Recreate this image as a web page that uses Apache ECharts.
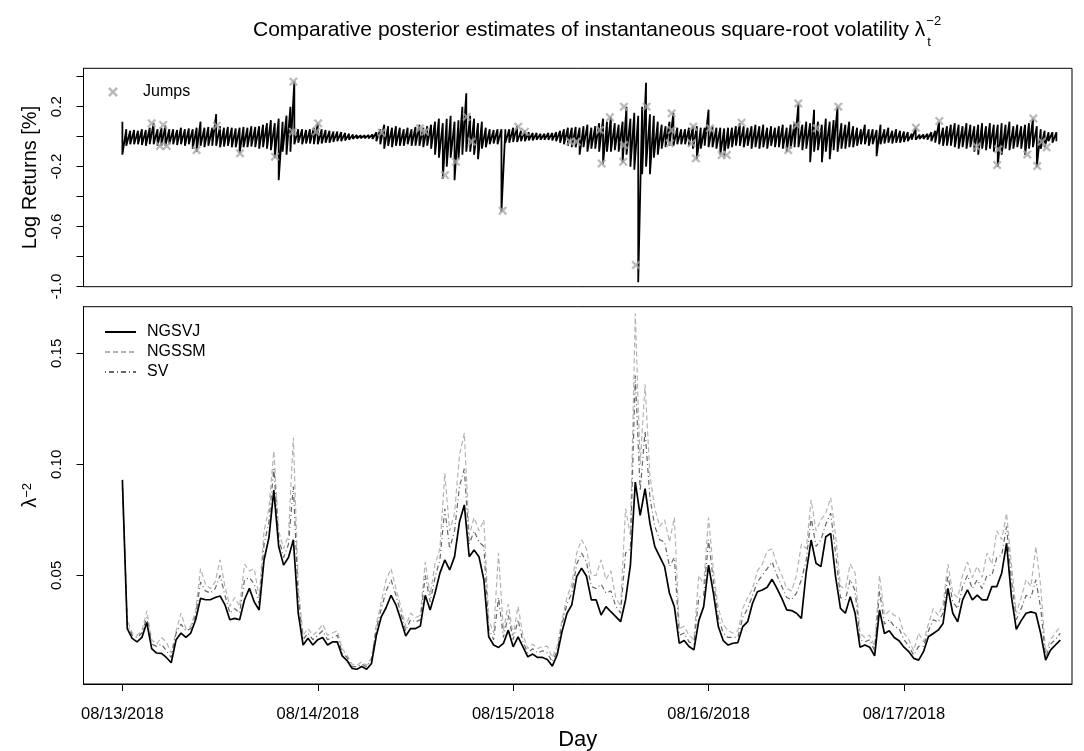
<!DOCTYPE html>
<html><head><meta charset="utf-8">
<script src="https://cdn.jsdelivr.net/npm/echarts@6/dist/echarts.min.js"></script>
<style>html,body{margin:0;padding:0;background:#fff}#c{width:1084px;height:751px}</style>
</head><body><div id="c"></div>
<script>
// ---------- data ----------
const dayLabels = ['08/13/2018','08/14/2018','08/15/2018','08/16/2018','08/17/2018'];
const dayTicks = [0,1,2,3,4];
const retTicks = [-1.0,-0.8,-0.6,-0.4,-0.2,0,0.2,0.4];
const retLabelTicks = [-1.0,-0.6,-0.2,0.2];
const volTicks = [0.05,0.10,0.15];

// log returns envelope, one pair every 0.02 day
const retStep = 0.02;
const retHigh = [
0.10,0.05,0.04,0.045,0.04,0.05,0.045,0.06,0.09,0.05,
0.06,0.075,0.05,0.05,0.045,0.06,0.05,0.055,0.05,0.06,
0.1,0.06,0.065,0.06,0.15,0.07,0.06,0.065,0.06,0.055,
0.06,0.065,0.06,0.07,0.065,0.07,0.08,0.09,0.11,0.09,
0.12,0.1,0.14,0.2,0.37,0.05,0.05,0.045,0.05,0.06,
0.09,0.05,0.045,0.04,0.035,0.035,0.03,0.025,0.02,0.015,
0.012,0.01,0.01,0.012,0.015,0.03,0.05,0.08,0.07,0.06,
0.07,0.06,0.05,0.06,0.05,0.065,0.08,0.06,0.07,0.08,
0.1,0.12,0.09,0.12,0.14,0.1,0.11,0.2,0.29,0.14,
0.12,0.09,0.1,0.06,0.05,0.045,0.05,0.05,0.05,0.05,
0.06,0.07,0.04,0.04,0.03,0.025,0.025,0.02,0.02,0.025,
0.025,0.03,0.04,0.05,0.06,0.06,0.065,0.06,0.07,0.08,
0.06,0.07,0.09,0.12,0.1,0.13,0.09,0.08,0.1,0.2,
0.12,0.16,0.14,0.2,0.36,0.15,0.14,0.1,0.08,0.07,
0.1,0.16,0.06,0.05,0.05,0.06,0.07,0.07,0.06,0.06,
0.18,0.07,0.06,0.06,0.055,0.06,0.06,0.07,0.09,0.07,
0.06,0.07,0.08,0.07,0.08,0.06,0.07,0.06,0.07,0.08,
0.06,0.08,0.09,0.22,0.08,0.1,0.09,0.18,0.1,0.08,
0.12,0.1,0.11,0.2,0.09,0.08,0.1,0.07,0.06,0.05,
0.08,0.05,0.05,0.045,0.08,0.05,0.06,0.04,0.05,0.04,
0.035,0.03,0.02,0.06,0.015,0.015,0.02,0.03,0.04,0.1,
0.06,0.07,0.08,0.09,0.08,0.07,0.09,0.08,0.07,0.08,
0.09,0.07,0.09,0.08,0.08,0.09,0.08,0.1,0.07,0.08,
0.07,0.08,0.09,0.12,0.07,0.05,0.04,0.03,0.03,0.03];
const retLow = [
-0.12,-0.06,-0.05,-0.05,-0.05,-0.055,-0.06,-0.05,-0.05,-0.06,
-0.06,-0.06,-0.05,-0.05,-0.055,-0.05,-0.06,-0.05,-0.08,-0.1,
-0.06,-0.07,-0.06,-0.06,-0.06,-0.07,-0.065,-0.06,-0.07,-0.07,
-0.11,-0.07,-0.07,-0.065,-0.07,-0.08,-0.07,-0.08,-0.09,-0.14,
-0.29,-0.1,-0.12,-0.1,-0.05,-0.04,-0.05,-0.045,-0.045,-0.05,
-0.05,-0.045,-0.04,-0.04,-0.035,-0.03,-0.03,-0.025,-0.02,-0.015,
-0.012,-0.01,-0.01,-0.012,-0.015,-0.03,-0.05,-0.08,-0.06,-0.07,
-0.06,-0.06,-0.06,-0.05,-0.06,-0.06,-0.06,-0.07,-0.06,-0.08,
-0.12,-0.14,-0.28,-0.2,-0.14,-0.29,-0.15,-0.12,-0.1,-0.1,
-0.12,-0.15,-0.08,-0.07,-0.05,-0.045,-0.05,-0.5,-0.04,-0.04,
-0.035,-0.035,-0.03,-0.03,-0.025,-0.025,-0.02,-0.02,-0.02,-0.02,
-0.025,-0.03,-0.04,-0.05,-0.06,-0.07,-0.07,-0.12,-0.07,-0.1,
-0.08,-0.08,-0.1,-0.18,-0.1,-0.1,-0.09,-0.1,-0.17,-0.12,
-0.2,-0.22,-0.97,-0.25,-0.2,-0.25,-0.14,-0.12,-0.08,-0.07,
-0.06,-0.06,-0.05,-0.05,-0.05,-0.06,-0.08,-0.15,-0.08,-0.06,
-0.07,-0.07,-0.08,-0.12,-0.125,-0.08,-0.07,-0.06,-0.06,-0.07,
-0.06,-0.08,-0.07,-0.08,-0.07,-0.08,-0.06,-0.07,-0.07,-0.08,
-0.1,-0.08,-0.07,-0.07,-0.09,-0.08,-0.17,-0.1,-0.09,-0.17,
-0.1,-0.15,-0.09,-0.1,-0.08,-0.08,-0.07,-0.07,-0.06,-0.05,
-0.05,-0.06,-0.05,-0.13,-0.05,-0.045,-0.04,-0.045,-0.04,-0.04,
-0.035,-0.03,-0.02,-0.02,-0.015,-0.015,-0.02,-0.03,-0.04,-0.05,
-0.06,-0.06,-0.06,-0.07,-0.08,-0.07,-0.08,-0.07,-0.1,-0.12,
-0.08,-0.09,-0.08,-0.1,-0.2,-0.12,-0.08,-0.09,-0.08,-0.07,
-0.08,-0.12,-0.08,-0.07,-0.2,-0.08,-0.07,-0.03,-0.04,-0.03];

// detected jumps (day, log return)
const jumpDays = [0.150,0.209,0.192,0.227,0.380,0.483,0.602,0.781,0.875,0.872,1.002,0.991,1.327,1.523,1.549,1.651,1.707,1.762,1.788,1.946,2.026,2.060,2.291,2.325,2.453,2.444,2.495,2.567,2.567,2.563,2.683,2.628,2.811,2.811,2.802,2.922,2.913,2.935,3.007,3.067,3.093,3.169,3.408,3.459,3.451,3.553,3.664,4.061,4.181,4.372,4.483,4.477,4.631,4.662,4.682,4.705,4.730];
const jumpValues = [0.089,0.078,-0.062,-0.062,-0.089,0.073,-0.111,-0.133,0.367,0.033,0.089,0.033,0.027,0.056,0.033,-0.256,-0.167,0.133,-0.033,-0.493,0.067,0.033,-0.033,-0.033,-0.178,0.044,0.129,0.2,-0.056,-0.167,0.2,-0.856,0.156,0.044,-0.044,0.067,-0.044,-0.144,0.056,-0.122,-0.122,0.093,-0.089,0.222,0.078,0.056,0.2,0.06,0.104,-0.067,-0.084,-0.189,-0.118,0.122,-0.196,-0.033,-0.071];

// volatility estimates, one value every 0.025 day
const volStep = 0.025;
const ngsvj = [
0.093,0.026,0.0216,0.020,0.022,0.0287,0.017,0.015,0.0148,0.013,
0.0106,0.021,0.024,0.022,0.024,0.030,0.0396,0.039,0.039,0.040,
0.0407,0.0367,0.030,0.0306,0.030,0.039,0.0441,0.038,0.0344,0.0569,
0.067,0.0884,0.063,0.0546,0.058,0.066,0.033,0.0186,0.0216,0.0186,
0.021,0.022,0.0186,0.020,0.020,0.0137,0.0116,0.0081,0.0077,0.0089,
0.0077,0.0103,0.023,0.0313,0.0355,0.041,0.0367,0.030,0.0227,0.026,
0.026,0.0272,0.041,0.0344,0.0419,0.051,0.0569,0.0524,0.0584,0.074,
0.0817,0.0584,0.0614,0.0584,0.048,0.0223,0.0186,0.0175,0.0193,0.0253,
0.0178,0.0223,0.0178,0.0133,0.0145,0.013,0.013,0.0121,0.0091,0.0141,
0.0246,0.0328,0.0367,0.0494,0.0532,0.0497,0.0389,0.0389,0.0321,0.0359,
0.0336,0.0314,0.0291,0.0389,0.0546,0.092,0.077,0.089,0.0734,0.0629,
0.0584,0.0539,0.0419,0.0359,0.0194,0.0206,0.0179,0.0164,0.0296,0.0359,
0.0546,0.0419,0.0269,0.0206,0.0186,0.0194,0.0197,0.0269,0.0291,0.0374,
0.0426,0.0434,0.0446,0.0482,0.0441,0.0396,0.0344,0.0341,0.0329,0.0306,
0.0516,0.0659,0.0554,0.0539,0.0674,0.0689,0.0494,0.0351,0.0329,0.0404,
0.0329,0.0176,0.0186,0.0176,0.0137,0.0344,0.0238,0.025,0.022,0.0205,
0.0176,0.0156,0.0126,0.0118,0.0156,0.0223,0.0238,0.0253,0.0283,0.0441,
0.0329,0.0291,0.0389,0.0434,0.0389,0.0411,0.0389,0.0389,0.0449,0.0449,
0.0509,0.0644,0.0404,0.0257,0.0296,0.0329,0.0335,0.0329,0.0238,0.0118,
0.0163,0.0186,0.0208];
const ngssm = [
0.090,0.030,0.024,0.023,0.025,0.034,0.021,0.019,0.022,0.020,
0.015,0.025,0.033,0.026,0.027,0.034,0.053,0.046,0.044,0.047,
0.057,0.045,0.036,0.040,0.036,0.055,0.052,0.053,0.040,0.070,
0.080,0.106,0.070,0.062,0.068,0.112,0.045,0.023,0.026,0.023,
0.025,0.028,0.023,0.024,0.025,0.017,0.014,0.010,0.0095,0.011,
0.0095,0.013,0.028,0.038,0.048,0.053,0.044,0.036,0.027,0.033,
0.031,0.032,0.056,0.041,0.055,0.062,0.096,0.070,0.078,0.104,
0.114,0.068,0.076,0.070,0.075,0.030,0.024,0.060,0.025,0.037,
0.023,0.036,0.023,0.017,0.019,0.017,0.018,0.018,0.013,0.018,
0.030,0.040,0.046,0.060,0.066,0.062,0.050,0.050,0.057,0.048,
0.052,0.040,0.036,0.080,0.068,0.168,0.100,0.136,0.095,0.080,
0.072,0.075,0.065,0.076,0.026,0.027,0.023,0.021,0.050,0.046,
0.076,0.052,0.035,0.028,0.025,0.024,0.025,0.035,0.040,0.044,
0.052,0.055,0.061,0.062,0.055,0.050,0.044,0.043,0.050,0.064,
0.062,0.084,0.070,0.075,0.078,0.085,0.068,0.045,0.044,0.055,
0.051,0.024,0.022,0.023,0.018,0.050,0.032,0.034,0.032,0.031,
0.024,0.021,0.016,0.024,0.020,0.028,0.035,0.032,0.037,0.055,
0.042,0.040,0.050,0.056,0.049,0.054,0.049,0.060,0.055,0.070,
0.066,0.078,0.055,0.033,0.040,0.048,0.045,0.063,0.045,0.015,
0.021,0.024,0.027];
const sv = [
0.091,0.028,0.023,0.022,0.024,0.031,0.019,0.018,0.019,0.016,
0.013,0.024,0.028,0.025,0.026,0.032,0.047,0.043,0.042,0.044,
0.050,0.041,0.033,0.035,0.033,0.048,0.049,0.046,0.037,0.064,
0.074,0.098,0.067,0.058,0.064,0.090,0.040,0.021,0.024,0.021,
0.023,0.025,0.021,0.022,0.023,0.015,0.013,0.009,0.0088,0.010,
0.0088,0.012,0.026,0.035,0.043,0.048,0.041,0.033,0.025,0.030,
0.029,0.030,0.050,0.038,0.049,0.057,0.080,0.062,0.070,0.090,
0.098,0.064,0.070,0.065,0.063,0.026,0.021,0.040,0.022,0.032,
0.021,0.030,0.020,0.015,0.017,0.015,0.016,0.015,0.011,0.016,
0.028,0.037,0.042,0.055,0.060,0.056,0.045,0.044,0.046,0.042,
0.043,0.036,0.033,0.060,0.062,0.140,0.088,0.115,0.085,0.072,
0.066,0.065,0.054,0.058,0.023,0.024,0.020,0.019,0.040,0.041,
0.066,0.047,0.031,0.024,0.022,0.022,0.022,0.031,0.035,0.041,
0.047,0.050,0.053,0.056,0.050,0.045,0.040,0.039,0.042,0.048,
0.057,0.076,0.063,0.066,0.073,0.078,0.060,0.040,0.039,0.048,
0.043,0.021,0.020,0.021,0.016,0.043,0.028,0.030,0.027,0.026,
0.021,0.018,0.014,0.018,0.018,0.025,0.030,0.029,0.033,0.050,
0.038,0.035,0.045,0.050,0.044,0.048,0.044,0.050,0.050,0.058,
0.059,0.072,0.048,0.030,0.035,0.041,0.040,0.048,0.035,0.013,
0.019,0.021,0.024];

// ---------- build ----------
const FONT = '"Liberation Sans", Arial, sans-serif';
const retData = [];
retHigh.forEach((h, k) => { retData.push([k * retStep, h]); retData.push([k * retStep, retLow[k]]); });
const jumpData = jumpDays.map((d, i) => [d, jumpValues[i]]);
const volSeries = arr => arr.map((v, i) => [i * volStep, v]);
const XMIN = -0.199, XMAX = 4.86;
const XSHAPE = 'path://M0,1.8L1.8,0L5,3.2L8.2,0L10,1.8L6.8,5L10,8.2L8.2,10L5,6.8L1.8,10L0,8.2L3.2,5Z';

// title layout
const titleMain = 'Comparative posterior estimates of instantaneous square-root volatility λ';
const TFS = 21;
const cv = document.createElement('canvas').getContext('2d');
cv.font = TFS + 'px ' + FONT;
const tW = cv.measureText(titleMain).width;
const tLeft = 253;

const chart = echarts.init(document.getElementById('c'), null, {renderer: 'canvas'});
chart.setOption({
  animation: false,
  backgroundColor: '#fff',
  textStyle: {fontFamily: FONT, color: '#000'},
  title: [
    {text: titleMain, left: tLeft, top: 20, padding: 0, textStyle: {fontSize: TFS, fontWeight: 'normal', color: '#000', fontFamily: FONT}},
    {text: '−2', left: tLeft + tW + 1, top: 15, padding: 0, textStyle: {fontSize: 13, fontWeight: 'normal', color: '#000', fontFamily: FONT}},
    {text: 't', left: tLeft + tW + 2, top: 36, padding: 0, textStyle: {fontSize: 13, fontWeight: 'normal', color: '#000', fontFamily: FONT}}
  ],
  legend: [
    {data: [{name: 'Jumps', icon: XSHAPE}], left: 108, top: 84, padding: 0, itemWidth: 10, itemHeight: 10, selectedMode: false,
     itemStyle: {color: '#a9a9a9'},
     textStyle: {fontSize: 16, color: '#000', fontFamily: FONT, padding: [0,0,0,20]}},
    {data: ['NGSVJ','NGSSM','SV'], orient: 'vertical', left: 104, top: 324, padding: 0, itemWidth: 31, itemHeight: 14, itemGap: 4, selectedMode: false,
     itemStyle: {opacity: 0},
     textStyle: {fontSize: 16, color: '#000', fontFamily: FONT, padding: [0,0,0,6], lineHeight: 15}}
  ],
  grid: [
    {left: 83.5, right: 12, top: 68.3, height: 218.4, show: true, borderColor: '#000', borderWidth: 1, containLabel: false, outerBoundsMode: 'none'},
    {left: 83.5, right: 12, top: 306.7, height: 377.3, show: true, borderColor: '#000', borderWidth: 1, containLabel: false, outerBoundsMode: 'none'}
  ],
  xAxis: [
    {type: 'value', gridIndex: 0, min: XMIN, max: XMAX, axisLine: {show: false}, axisTick: {show: false}, axisLabel: {show: false}, splitLine: {show: false}},
    {type: 'value', gridIndex: 1, min: XMIN, max: XMAX,
     name: 'Day', nameLocation: 'middle', nameGap: 45, nameTextStyle: {fontSize: 22, color: '#000', fontFamily: FONT},
     axisLine: {show: true, onZero: false, lineStyle: {color: '#000', width: 1}},
     axisTick: {show: true, length: 7, customValues: dayTicks, lineStyle: {color: '#000'}},
     axisLabel: {customValues: dayTicks, margin: 22, fontSize: 16.5, color: '#000', fontFamily: FONT,
                 formatter: v => dayLabels[dayTicks.indexOf(Math.round(v))] || ''},
     splitLine: {show: false}}
  ],
  yAxis: [
    {type: 'value', gridIndex: 0, min: -1.0, max: 0.456,
     name: 'Log Returns [%]', nameLocation: 'middle', nameGap: 43, nameRotate: 90, nameTextStyle: {fontSize: 20, color: '#000', fontFamily: FONT},
     axisLine: {show: true, onZero: false, lineStyle: {color: '#000'}},
     axisTick: {show: true, length: 7, customValues: retTicks, lineStyle: {color: '#000'}},
     axisLabel: {customValues: retLabelTicks, rotate: 90, margin: 19, fontSize: 15, color: '#000', fontFamily: FONT, formatter: v => v.toFixed(1)},
     splitLine: {show: false}},
    {type: 'value', gridIndex: 1, min: 0.00104, max: 0.171,
     name: '{l|λ}{s|−2}', nameLocation: 'middle', nameGap: 43, nameRotate: 90,
     nameTextStyle: {fontSize: 20, color: '#000', fontFamily: FONT, rich: {l: {fontSize: 20, fontFamily: FONT}, s: {fontSize: 13, verticalAlign: 'top', fontFamily: FONT}}},
     axisLine: {show: true, onZero: false, lineStyle: {color: '#000'}},
     axisTick: {show: true, length: 7, customValues: volTicks, lineStyle: {color: '#000'}},
     axisLabel: {customValues: volTicks, rotate: 90, margin: 19, fontSize: 15, color: '#000', fontFamily: FONT, formatter: v => v.toFixed(2)},
     splitLine: {show: false}}
  ],
  series: [
    {name: 'Log Returns', type: 'line', xAxisIndex: 0, yAxisIndex: 0, data: retData, showSymbol: false, symbol: 'none',
     lineStyle: {color: '#000', width: 1.8}, z: 2},
    {name: 'Jumps', type: 'scatter', xAxisIndex: 0, yAxisIndex: 0, data: jumpData, symbol: XSHAPE, symbolSize: 9,
     itemStyle: {color: '#a9a9a9'}, z: 5},
    {name: 'NGSSM', type: 'line', xAxisIndex: 1, yAxisIndex: 1, data: volSeries(ngssm), showSymbol: false, symbol: 'none',
     lineStyle: {color: '#b4b4b4', width: 1.2, type: [5, 3]}, itemStyle: {color: '#b4b4b4'}, z: 2},
    {name: 'SV', type: 'line', xAxisIndex: 1, yAxisIndex: 1, data: volSeries(sv), showSymbol: false, symbol: 'none',
     lineStyle: {color: '#666', width: 1.2, type: [1, 3, 5, 3]}, itemStyle: {color: '#666'}, z: 3},
    {name: 'NGSVJ', type: 'line', xAxisIndex: 1, yAxisIndex: 1, data: volSeries(ngsvj), showSymbol: false, symbol: 'none',
     lineStyle: {color: '#000', width: 1.7}, itemStyle: {color: '#000'}, z: 4}
  ]
});
</script>
</body></html>
